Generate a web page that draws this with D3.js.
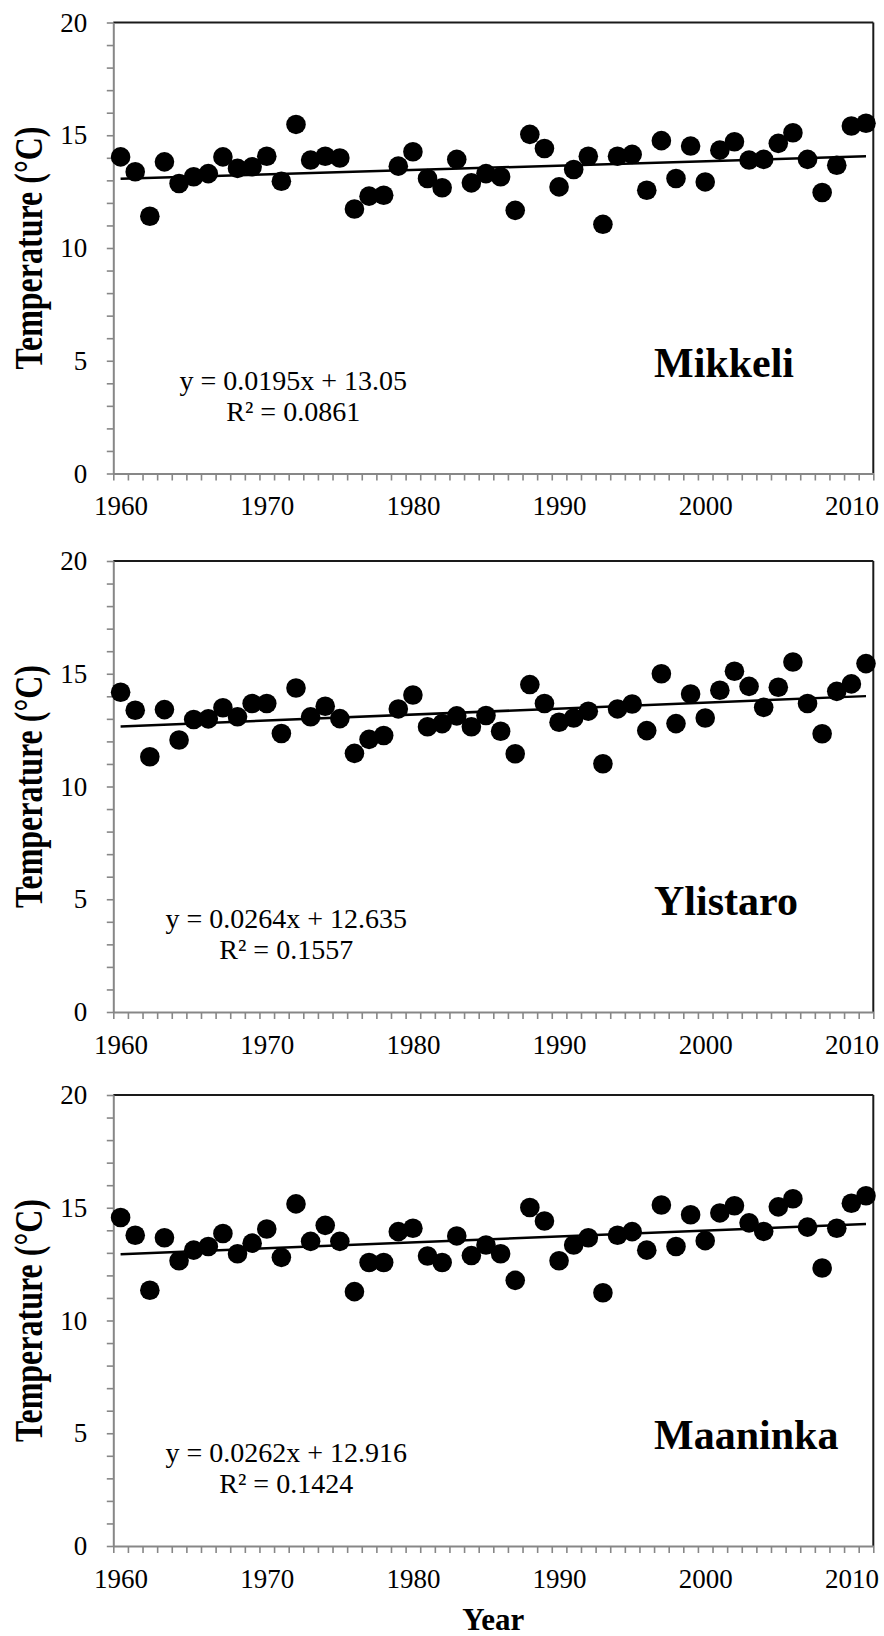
<!DOCTYPE html>
<html>
<head>
<meta charset="utf-8">
<script src="https://d3js.org/d3.v7.min.js"></script>
  <style type="text/css">
    body {
      margin: 0;
      background: #fff;
    }
    svg {
      display: block;
    }
    .dot {
      fill: #000;
    }
    .trend {
      fill: none;
      stroke: #000;
      stroke-width: 2.5;
    }
    .axis path, .axis line {
      stroke: #878787;
      stroke-width: 2;
    }
    .axis line {
      stroke-width: 1.6;
    }
    .axis text {
      fill: #000;
    }
    .frame {
      stroke: #1a1a1a;
      stroke-width: 2;
    }
  </style>
</head>
<body>
  <script type="text/javascript">

  // years on the x axis
  var years = [1960, 1961, 1962, 1963, 1964, 1965, 1966, 1967, 1968, 1969,
               1970, 1971, 1972, 1973, 1974, 1975, 1976, 1977, 1978, 1979,
               1980, 1981, 1982, 1983, 1984, 1985, 1986, 1987, 1988, 1989,
               1990, 1991, 1992, 1993, 1994, 1995, 1996, 1997, 1998, 1999,
               2000, 2001, 2002, 2003, 2004, 2005, 2006, 2007, 2008, 2009,
               2010, 2011];

  var stations = ["Mikkeli", "Ylistaro", "Maaninka"];

  // mean temperature (°C)
  var mikkeli = [14.04, 13.38, 11.41, 13.82, 12.86, 13.16, 13.30, 14.04, 13.53, 13.60,
                 14.07, 12.96, 15.48, 13.90, 14.07, 13.99, 11.73, 12.30, 12.34, 13.63,
                 14.27, 13.08, 12.67, 13.93, 12.89, 13.30, 13.16, 11.67, 15.04, 14.41,
                 12.71, 13.48, 14.07, 11.05, 14.07, 14.15, 12.56, 14.76, 13.08, 14.52,
                 12.93, 14.34, 14.71, 13.90, 13.93, 14.64, 15.11, 13.93, 12.46, 13.67,
                 15.41, 15.53];

  var ylistaro = [14.18, 13.38, 11.32, 13.41, 12.06, 12.97, 13.00, 13.49, 13.09, 13.68,
                  13.68, 12.35, 14.37, 13.09, 13.56, 13.01, 11.47, 12.09, 12.26, 13.44,
                  14.06, 12.65, 12.79, 13.13, 12.65, 13.15, 12.45, 11.45, 14.52, 13.68,
                  12.85, 13.04, 13.34, 11.01, 13.44, 13.66, 12.48, 15.00, 12.79, 14.10,
                  13.04, 14.27, 15.11, 14.44, 13.51, 14.40, 15.52, 13.68, 12.34, 14.22,
                  14.55, 15.45];

  var maaninka = [14.57, 13.78, 11.34, 13.67, 12.65, 13.12, 13.28, 13.86, 12.96, 13.43,
                  14.06, 12.80, 15.17, 13.51, 14.22, 13.51, 11.28, 12.57, 12.57, 13.94,
                  14.09, 12.86, 12.57, 13.75, 12.88, 13.35, 12.96, 11.78, 15.01, 14.41,
                  12.65, 13.35, 13.67, 11.23, 13.78, 13.94, 13.12, 15.12, 13.28, 14.69,
                  13.54, 14.77, 15.09, 14.33, 13.95, 15.04, 15.40, 14.14, 12.33, 14.09,
                  15.20, 15.53];

  // linear trend (x = 1 for 1960)
  var slopes = [0.0195, 0.0264, 0.0262];
  var intercepts = [13.05, 12.635, 12.916];
  var equations = ["y = 0.0195x + 13.05", "y = 0.0264x + 12.635", "y = 0.0262x + 12.916"];
  var rSquared = ["R\u00b2 = 0.0861", "R\u00b2 = 0.1557", "R\u00b2 = 0.1424"];

  var yTickLabels = [0, 5, 10, 15, 20];
  var xTickLabels = [1960, 1970, 1980, 1990, 2000, 2010];

  var series = [mikkeli, ylistaro, maaninka];

  var serif = "'Liberation Serif', 'Times New Roman', Times, serif";
  var width = 884, height = 1636;
  var left = 113.3, right = 873.3;
  var tops = [22.5, 561, 1095];
  var plotH = 451;

  var svg = d3.select("body").append("svg")
      .attr("width", width)
      .attr("height", height)
      .attr("font-family", serif);

  var x = d3.scaleLinear().domain([1959.5, 2011.5]).range([left, right]);

  series.forEach(function(vals, i) {
    var top = tops[i], bottom = top + plotH;
    var y = d3.scaleLinear().domain([0, 20]).range([bottom, top]);
    var g = svg.append("g");

    // black frame on top and right
    g.append("line").attr("class", "frame")
      .attr("x1", left).attr("x2", right).attr("y1", top).attr("y2", top);
    g.append("line").attr("class", "frame")
      .attr("x1", right).attr("x2", right).attr("y1", top).attr("y2", bottom);

    // y axis, a tick every degree, labels every 5
    g.append("g").attr("class", "axis")
      .attr("transform", "translate(" + left + ",0)")
      .call(d3.axisLeft(y)
        .tickValues(d3.range(0, 21, 1))
        .tickSize(6.5)
        .tickSizeOuter(0)
        .tickPadding(19.5)
        .tickFormat(function(d) { return yTickLabels.indexOf(d) >= 0 ? d : ""; }))
      .attr("font-family", serif)
      .attr("font-size", 27);

    // x axis, a tick between every year
    g.append("g").attr("class", "axis")
      .attr("transform", "translate(0," + bottom + ")")
      .call(d3.axisBottom(x)
        .tickValues(d3.range(1959.5, 2012, 1))
        .tickSize(7)
        .tickSizeOuter(0)
        .tickFormat(""));

    var xl = g.append("g").attr("class", "axis")
      .attr("transform", "translate(0," + bottom + ")")
      .call(d3.axisBottom(x)
        .tickValues(xTickLabels)
        .tickSize(0)
        .tickPadding(22.8)
        .tickFormat(d3.format("d")))
      .attr("font-family", serif)
      .attr("font-size", 27);
    xl.select(".domain").remove();

    // points
    g.selectAll(".dot")
      .data(vals)
      .enter()
      .append("circle")
      .attr("class", "dot")
      .attr("r", 9.8)
      .attr("cx", function(d, j) { return x(years[j]); })
      .attr("cy", function(d) { return y(d); });

    // trend line
    var line = d3.line()
      .x(function(yr) { return x(yr); })
      .y(function(yr) { return y(slopes[i] * (yr - years[0] + 1) + intercepts[i]); });
    g.append("path").attr("class", "trend")
      .attr("d", line([years[0], years[years.length - 1]]));

    // equation
    var eq = g.append("text")
      .attr("x", 407)
      .attr("y", top + 367)
      .attr("text-anchor", "end")
      .attr("font-family", serif)
      .attr("font-size", 28)
      .text(equations[i]);
    var bb = eq.node().getBBox();
    g.append("text")
      .attr("x", bb.x + bb.width / 2)
      .attr("y", top + 398)
      .attr("text-anchor", "middle")
      .attr("font-family", serif)
      .attr("font-size", 28)
      .text(rSquared[i]);

    // station name
    g.append("text")
      .attr("x", 654)
      .attr("y", top + 354)
      .attr("font-family", serif)
      .attr("font-size", 42)
      .attr("font-weight", "bold")
      .text(stations[i]);

    // y axis title
    g.append("text")
      .attr("transform", "translate(41.5," + (top + plotH / 2) + ") scale(1.22,1) rotate(-90)")
      .attr("text-anchor", "middle")
      .attr("font-family", serif)
      .attr("font-size", 32)
      .attr("font-weight", "bold")
      .text("Temperature (\u00b0C)");
  });

  svg.append("text")
    .attr("x", (left + right) / 2)
    .attr("y", 1630)
    .attr("text-anchor", "middle")
    .attr("font-family", serif)
    .attr("font-size", 31)
    .attr("font-weight", "bold")
    .text("Year");

  </script>
</body>
</html>
